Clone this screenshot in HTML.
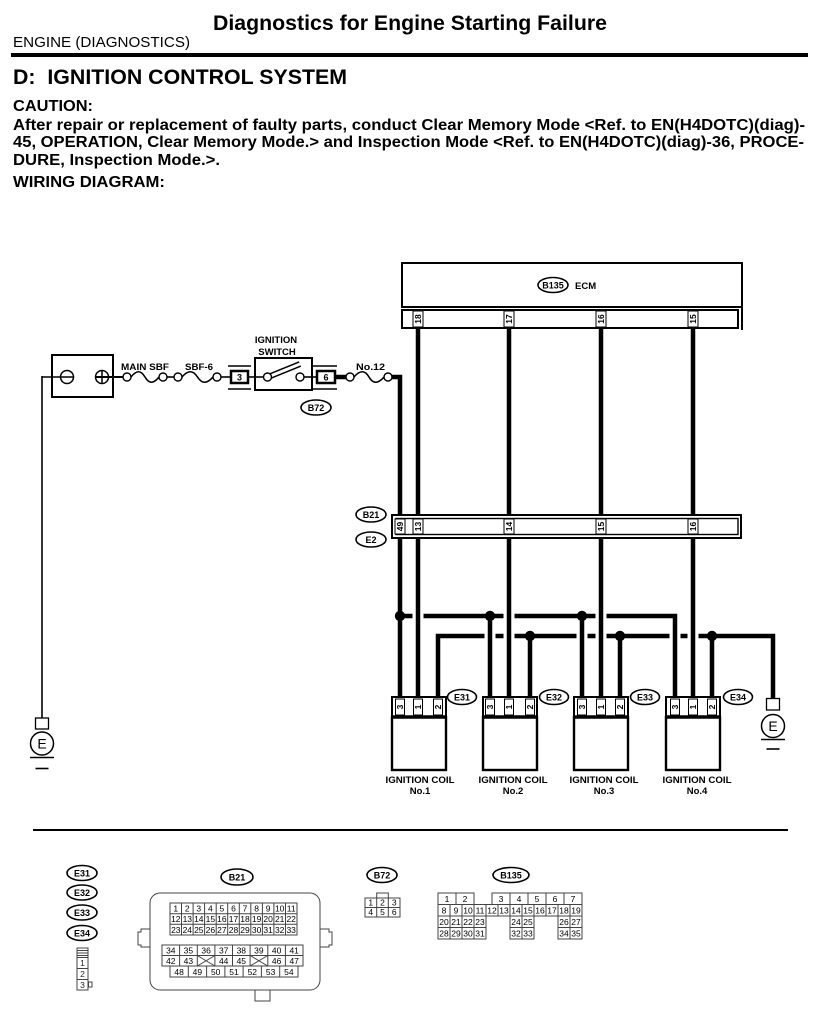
<!DOCTYPE html>
<html><head><meta charset="utf-8"><style>
html,body{margin:0;padding:0;background:#fff;}
svg{display:block;}
text{font-family:"Liberation Sans",Arial,sans-serif;fill:#000;}
.w{stroke:#000;stroke-width:4.5;fill:none;stroke-linejoin:miter;stroke-linecap:butt;}
.t{stroke:#000;stroke-width:1.6;fill:none;}
.b{stroke:#000;stroke-width:2;fill:#fff;}
.lb{stroke:#000;stroke-width:1;fill:#fff;}
.g{stroke:#444;stroke-width:1;fill:none;}
.gc{stroke:#444;stroke-width:1;fill:#fff;}
.pn{font-size:8.5px;font-weight:bold;text-anchor:middle;}
.lab{font-size:9.5px;font-weight:bold;}
.el{font-size:9px;font-weight:bold;text-anchor:middle;}
.n{font-size:8.5px;text-anchor:middle;fill:#222;}
</style></head><body>
<svg width="825" height="1015" viewBox="0 0 825 1015" xmlns="http://www.w3.org/2000/svg">
<rect width="825" height="1015" fill="#fff"/>

<!-- HEADER -->
<text x="410" y="30" text-anchor="middle" font-size="21" font-weight="bold" textLength="394" lengthAdjust="spacingAndGlyphs">Diagnostics for Engine Starting Failure</text>
<text x="13" y="47" font-size="14.5" textLength="177" lengthAdjust="spacingAndGlyphs">ENGINE (DIAGNOSTICS)</text>
<rect x="11" y="53" width="797" height="4" fill="#000"/>
<text x="13" y="84" font-size="21" font-weight="bold" textLength="334" lengthAdjust="spacingAndGlyphs">D:&#160; IGNITION CONTROL SYSTEM</text>
<text x="13" y="111" font-size="16" font-weight="bold" textLength="80" lengthAdjust="spacingAndGlyphs">CAUTION:</text>
<text x="13" y="130" font-size="16" font-weight="bold" textLength="792" lengthAdjust="spacingAndGlyphs">After repair or replacement of faulty parts, conduct Clear Memory Mode &lt;Ref. to EN(H4DOTC)(diag)-</text>
<text x="13" y="147" font-size="16" font-weight="bold" textLength="791" lengthAdjust="spacingAndGlyphs">45, OPERATION, Clear Memory Mode.&gt; and Inspection Mode &lt;Ref. to EN(H4DOTC)(diag)-36, PROCE-</text>
<text x="13" y="165" font-size="16" font-weight="bold" textLength="207" lengthAdjust="spacingAndGlyphs">DURE, Inspection Mode.&gt;.</text>
<text x="13" y="187" font-size="16" font-weight="bold" textLength="152" lengthAdjust="spacingAndGlyphs">WIRING DIAGRAM:</text>

<!-- ECM -->
<rect x="402" y="263" width="340" height="44" fill="none" stroke="#000" stroke-width="2"/>
<rect x="402" y="310" width="336" height="18" fill="none" stroke="#000" stroke-width="2"/>
<line x1="742" y1="307" x2="742" y2="330" stroke="#000" stroke-width="2"/>
<ellipse cx="553" cy="285" rx="15" ry="7.5" fill="#fff" stroke="#000" stroke-width="1.6"/>
<text x="553" y="288.5" class="el">B135</text>
<text x="575" y="289" class="lab">ECM</text>

<!-- wires ECM -> B21 -->
<path class="w" d="M418,328 V516 M509,328 V516 M601,328 V516 M693,328 V516"/>
<!-- ECM pin labels -->
<rect x="413" y="311" width="10" height="16" class="lb"/>
<rect x="504" y="311" width="10" height="16" class="lb"/>
<rect x="596" y="311" width="10" height="16" class="lb"/>
<rect x="688" y="311" width="10" height="16" class="lb"/>
<text class="pn" transform="translate(418,319) rotate(-90)" dy="3">18</text>
<text class="pn" transform="translate(509,319) rotate(-90)" dy="3">17</text>
<text class="pn" transform="translate(601,319) rotate(-90)" dy="3">16</text>
<text class="pn" transform="translate(693,319) rotate(-90)" dy="3">15</text>

<!-- LEFT CIRCUIT -->
<rect x="52" y="355" width="61" height="42" fill="#fff" stroke="#000" stroke-width="2"/>
<line x1="42" y1="377" x2="74" y2="377" class="t"/>
<circle cx="67" cy="377" r="6.5" fill="none" stroke="#000" stroke-width="1.5"/>
<circle cx="102" cy="377" r="6.5" fill="none" stroke="#000" stroke-width="1.5"/>
<line x1="102" y1="370.5" x2="102" y2="383.5" stroke="#000" stroke-width="1.5"/>
<line x1="95.5" y1="377" x2="123" y2="377" stroke="#000" stroke-width="2"/>
<!-- left ground wire -->
<line x1="42" y1="376" x2="42" y2="718" class="t"/>
<rect x="35.5" y="718" width="13" height="11" fill="#fff" stroke="#000" stroke-width="1.3"/>
<circle cx="42" cy="743.5" r="11.5" fill="#fff" stroke="#000" stroke-width="1.5"/>
<text x="42" y="748.5" font-size="14" text-anchor="middle">E</text>
<line x1="30" y1="757.5" x2="54" y2="757.5" stroke="#000" stroke-width="1.6"/>
<line x1="35.5" y1="768.5" x2="48.5" y2="768.5" stroke="#000" stroke-width="1.6"/>

<!-- fuses -->
<path d="M131,377 C136.6,370 140.8,370 145,377 S153.4,384 159,377" class="t" stroke-width="2"/>
<circle cx="127" cy="377" r="4" fill="#fff" stroke="#000" stroke-width="1.4"/>
<circle cx="163" cy="377" r="4" fill="#fff" stroke="#000" stroke-width="1.4"/>
<line x1="167" y1="377" x2="174" y2="377" class="t"/>
<path d="M182,377 C188,370 193,370 197.5,377 S207,384 213,377" class="t" stroke-width="2"/>
<circle cx="178" cy="377" r="4" fill="#fff" stroke="#000" stroke-width="1.4"/>
<circle cx="217" cy="377" r="4" fill="#fff" stroke="#000" stroke-width="1.4"/>
<text x="121" y="370" class="lab" textLength="48" lengthAdjust="spacingAndGlyphs">MAIN SBF</text>
<text x="185" y="370" class="lab" textLength="28" lengthAdjust="spacingAndGlyphs">SBF-6</text>

<!-- connector 3 -->
<line x1="221" y1="377" x2="231" y2="377" class="t"/>
<line x1="228" y1="366" x2="251" y2="366" stroke="#000" stroke-width="1.4"/>
<line x1="228" y1="389" x2="251" y2="389" stroke="#000" stroke-width="1.4"/>
<rect x="231" y="371" width="17" height="12" fill="#fff" stroke="#000" stroke-width="2.5"/>
<text x="239.5" y="380.5" class="el">3</text>
<line x1="248" y1="377" x2="255" y2="377" class="t"/>
<!-- ignition switch -->
<rect x="255" y="358" width="57" height="32" fill="#fff" stroke="#000" stroke-width="2"/>
<line x1="255" y1="377" x2="263" y2="377" class="t"/>
<line x1="304" y1="377" x2="312" y2="377" class="t"/>
<line x1="268" y1="377" x2="300" y2="364" stroke="#000" stroke-width="6"/>
<line x1="268" y1="377" x2="300" y2="364" stroke="#fff" stroke-width="3"/>
<circle cx="267.5" cy="377" r="4" fill="#fff" stroke="#000" stroke-width="1.4"/>
<circle cx="300" cy="377" r="4" fill="#fff" stroke="#000" stroke-width="1.4"/>
<text x="276" y="343" class="lab" text-anchor="middle" font-size="9">IGNITION</text>
<text x="277" y="355" class="lab" text-anchor="middle" font-size="9">SWITCH</text>
<line x1="312" y1="377" x2="317" y2="377" class="t"/>
<!-- connector 6 -->
<line x1="313" y1="366" x2="337" y2="366" stroke="#000" stroke-width="1.4"/>
<line x1="313" y1="389" x2="337" y2="389" stroke="#000" stroke-width="1.4"/>
<rect x="317" y="371" width="18" height="12" fill="#fff" stroke="#000" stroke-width="2.5"/>
<text x="326" y="380.5" class="el">6</text>
<ellipse cx="316" cy="407.5" rx="15" ry="7.5" fill="#fff" stroke="#000" stroke-width="1.6"/>
<text x="316" y="411" class="el">B72</text>
<!-- No.12 -->
<line x1="335" y1="377" x2="346" y2="377" stroke="#000" stroke-width="4.5"/>
<path d="M354,377 C360,370 365,370 369,377 S378,384 384,377" class="t" stroke-width="2"/>
<circle cx="350" cy="377" r="4" fill="#fff" stroke="#000" stroke-width="1.4"/>
<circle cx="388" cy="377" r="4" fill="#fff" stroke="#000" stroke-width="1.4"/>
<text x="356" y="370" class="lab" textLength="29" lengthAdjust="spacingAndGlyphs">No.12</text>
<path class="w" d="M392,377 H400 V516"/>

<!-- B21 / E2 -->
<rect x="392" y="515" width="349" height="23" fill="#fff" stroke="#000" stroke-width="2"/>
<rect x="396" y="518.5" width="342" height="16" fill="none" stroke="#000" stroke-width="1.4"/>
<ellipse cx="371" cy="514.5" rx="15" ry="7.5" fill="#fff" stroke="#000" stroke-width="1.6"/>
<text x="371" y="518" class="el">B21</text>
<ellipse cx="371" cy="539.5" rx="15" ry="7.5" fill="#fff" stroke="#000" stroke-width="1.6"/>
<text x="371" y="543" class="el">E2</text>
<rect x="395" y="519" width="10" height="15" class="lb"/>
<rect x="413" y="519" width="10" height="15" class="lb"/>
<rect x="504" y="519" width="10" height="15" class="lb"/>
<rect x="596" y="519" width="10" height="15" class="lb"/>
<rect x="688" y="519" width="10" height="15" class="lb"/>
<text class="pn" transform="translate(400,526.5) rotate(-90)" dy="3">49</text>
<text class="pn" transform="translate(418,526.5) rotate(-90)" dy="3">13</text>
<text class="pn" transform="translate(509,526.5) rotate(-90)" dy="3">14</text>
<text class="pn" transform="translate(601,526.5) rotate(-90)" dy="3">15</text>
<text class="pn" transform="translate(693,526.5) rotate(-90)" dy="3">16</text>

<!-- wires B21 -> coils -->
<path class="w" d="M400,538 V697 M418,538 V697 M509,538 V697 M601,538 V697 M693,538 V697"/>
<!-- upper common line -->
<path class="w" d="M400,616 H412.5 M423.5,616 H503.5 M514.5,616 H595.5 M606.5,616 H675 V697"/>
<path class="w" d="M490,616 V697 M582,616 V697"/>
<circle cx="400" cy="616" r="5.2"/>
<circle cx="490" cy="616" r="5.2"/>
<circle cx="582" cy="616" r="5.2"/>
<!-- lower common line -->
<path class="w" d="M438,697 V636 H484.5 M495.5,636 H503.5 M514.5,636 H576.5 M587.5,636 H595.5 M606.5,636 H669.5 M680.5,636 H687.5 M698.5,636 H773 V699"/>
<path class="w" d="M530,636 V697 M620,636 V697 M712,636 V697"/>
<circle cx="530" cy="636" r="5.2"/>
<circle cx="620" cy="636" r="5.2"/>
<circle cx="712" cy="636" r="5.2"/>

<!-- right ground -->
<rect x="766.5" y="698.5" width="13" height="11.5" fill="#fff" stroke="#000" stroke-width="1.3"/>
<circle cx="773" cy="726" r="11.5" fill="#fff" stroke="#000" stroke-width="1.5"/>
<text x="773" y="731" font-size="14" text-anchor="middle">E</text>
<line x1="761" y1="739.5" x2="785" y2="739.5" stroke="#000" stroke-width="1.6"/>
<line x1="766.5" y1="749" x2="779.5" y2="749" stroke="#000" stroke-width="1.6"/>

<!-- COILS -->
<g>
<rect x="392" y="697" width="54" height="20" fill="#fff" stroke="#000" stroke-width="2"/>
<rect x="392" y="717" width="54" height="53" fill="#fff" stroke="#000" stroke-width="2.4"/>
<line x1="392" y1="717" x2="446" y2="717" stroke="#000" stroke-width="3.5"/>
<rect x="395.5" y="699" width="9" height="16" class="lb"/>
<rect x="413.5" y="699" width="9" height="16" class="lb"/>
<rect x="433.5" y="699" width="9" height="16" class="lb"/>
<text class="pn" transform="translate(400,707) rotate(-90)" dy="3">3</text>
<text class="pn" transform="translate(418,707) rotate(-90)" dy="3">1</text>
<text class="pn" transform="translate(438,707) rotate(-90)" dy="3">2</text>
<ellipse cx="462" cy="697" rx="14.5" ry="7.5" fill="#fff" stroke="#000" stroke-width="1.6"/>
<text x="462" y="700.5" class="el">E31</text>
<text x="420" y="783" class="lab" text-anchor="middle" textLength="69" lengthAdjust="spacingAndGlyphs">IGNITION COIL</text>
<text x="420" y="794" class="lab" text-anchor="middle">No.1</text>
</g>
<g>
<rect x="483" y="697" width="54" height="20" fill="#fff" stroke="#000" stroke-width="2"/>
<rect x="483" y="717" width="54" height="53" fill="#fff" stroke="#000" stroke-width="2.4"/>
<line x1="483" y1="717" x2="537" y2="717" stroke="#000" stroke-width="3.5"/>
<rect x="485.5" y="699" width="9" height="16" class="lb"/>
<rect x="504.5" y="699" width="9" height="16" class="lb"/>
<rect x="525.5" y="699" width="9" height="16" class="lb"/>
<text class="pn" transform="translate(490,707) rotate(-90)" dy="3">3</text>
<text class="pn" transform="translate(509,707) rotate(-90)" dy="3">1</text>
<text class="pn" transform="translate(530,707) rotate(-90)" dy="3">2</text>
<ellipse cx="554" cy="697" rx="14.5" ry="7.5" fill="#fff" stroke="#000" stroke-width="1.6"/>
<text x="554" y="700.5" class="el">E32</text>
<text x="513" y="783" class="lab" text-anchor="middle" textLength="69" lengthAdjust="spacingAndGlyphs">IGNITION COIL</text>
<text x="513" y="794" class="lab" text-anchor="middle">No.2</text>
</g>
<g>
<rect x="574" y="697" width="54" height="20" fill="#fff" stroke="#000" stroke-width="2"/>
<rect x="574" y="717" width="54" height="53" fill="#fff" stroke="#000" stroke-width="2.4"/>
<line x1="574" y1="717" x2="628" y2="717" stroke="#000" stroke-width="3.5"/>
<rect x="577.5" y="699" width="9" height="16" class="lb"/>
<rect x="596.5" y="699" width="9" height="16" class="lb"/>
<rect x="615.5" y="699" width="9" height="16" class="lb"/>
<text class="pn" transform="translate(582,707) rotate(-90)" dy="3">3</text>
<text class="pn" transform="translate(601,707) rotate(-90)" dy="3">1</text>
<text class="pn" transform="translate(620,707) rotate(-90)" dy="3">2</text>
<ellipse cx="645" cy="697" rx="14.5" ry="7.5" fill="#fff" stroke="#000" stroke-width="1.6"/>
<text x="645" y="700.5" class="el">E33</text>
<text x="604" y="783" class="lab" text-anchor="middle" textLength="69" lengthAdjust="spacingAndGlyphs">IGNITION COIL</text>
<text x="604" y="794" class="lab" text-anchor="middle">No.3</text>
</g>
<g>
<rect x="666" y="697" width="54" height="20" fill="#fff" stroke="#000" stroke-width="2"/>
<rect x="666" y="717" width="54" height="53" fill="#fff" stroke="#000" stroke-width="2.4"/>
<line x1="666" y1="717" x2="720" y2="717" stroke="#000" stroke-width="3.5"/>
<rect x="670.5" y="699" width="9" height="16" class="lb"/>
<rect x="688.5" y="699" width="9" height="16" class="lb"/>
<rect x="707.5" y="699" width="9" height="16" class="lb"/>
<text class="pn" transform="translate(675,707) rotate(-90)" dy="3">3</text>
<text class="pn" transform="translate(693,707) rotate(-90)" dy="3">1</text>
<text class="pn" transform="translate(712,707) rotate(-90)" dy="3">2</text>
<ellipse cx="738" cy="697" rx="14.5" ry="7.5" fill="#fff" stroke="#000" stroke-width="1.6"/>
<text x="738" y="700.5" class="el">E34</text>
<text x="697" y="783" class="lab" text-anchor="middle" textLength="69" lengthAdjust="spacingAndGlyphs">IGNITION COIL</text>
<text x="697" y="794" class="lab" text-anchor="middle">No.4</text>
</g>

<!-- separator -->
<line x1="33" y1="830" x2="788" y2="830" stroke="#000" stroke-width="2"/>

<!-- BOTTOM: E31-E34 connector -->
<ellipse cx="82" cy="873" rx="15" ry="7.5" fill="#fff" stroke="#000" stroke-width="1.6"/>
<text x="82" y="876.5" class="el">E31</text>
<ellipse cx="82" cy="892.5" rx="15" ry="7.5" fill="#fff" stroke="#000" stroke-width="1.6"/>
<text x="82" y="896" class="el">E32</text>
<ellipse cx="82" cy="912.5" rx="15" ry="7.5" fill="#fff" stroke="#000" stroke-width="1.6"/>
<text x="82" y="916" class="el">E33</text>
<ellipse cx="82" cy="933" rx="15" ry="7.5" fill="#fff" stroke="#000" stroke-width="1.6"/>
<text x="82" y="936.5" class="el">E34</text>
<rect x="77" y="948" width="11" height="42" class="gc"/>
<path class="g" d="M77,950.5 H88 M77,953 H88 M77,955.5 H88 M77,957.5 H88 M77,968.5 H88 M77,979.5 H88"/>
<rect x="88.5" y="982" width="3.5" height="5" class="gc"/>
<text x="82.5" y="966" class="n">1</text>
<text x="82.5" y="977" class="n">2</text>
<text x="82.5" y="988" class="n">3</text>

<!-- B21 connector -->
<ellipse cx="237" cy="877" rx="16" ry="8" fill="#fff" stroke="#000" stroke-width="1.6"/>
<text x="237" y="880.5" class="el">B21</text>
<rect x="150" y="893" width="170" height="97" rx="10" class="g"/>
<path class="g" d="M150,929 H141 V932 H138 V945 H141 V947 H150"/>
<path class="g" d="M320,929 H329 V932 H332 V945 H329 V947 H320"/>
<path class="g" d="M255,990 V1001 H270 V990"/>
<rect x="170" y="903" width="127" height="32" class="gc"/>
<path class="g" d="M181.5,903 V935 M193.1,903 V935 M204.6,903 V935 M216.2,903 V935 M227.7,903 V935 M239.3,903 V935 M250.8,903 V935 M262.4,903 V935 M273.9,903 V935 M285.5,903 V935 M170,913.7 H297 M170,924.3 H297"/>
<g class="n">
<text x="175.8" y="911.5">1</text><text x="187.3" y="911.5">2</text><text x="198.8" y="911.5">3</text><text x="210.4" y="911.5">4</text><text x="221.9" y="911.5">5</text><text x="233.5" y="911.5">6</text><text x="245" y="911.5">7</text><text x="256.6" y="911.5">8</text><text x="268.1" y="911.5">9</text><text x="279.7" y="911.5">10</text><text x="291.2" y="911.5">11</text>
<text x="175.8" y="922.2">12</text><text x="187.3" y="922.2">13</text><text x="198.8" y="922.2">14</text><text x="210.4" y="922.2">15</text><text x="221.9" y="922.2">16</text><text x="233.5" y="922.2">17</text><text x="245" y="922.2">18</text><text x="256.6" y="922.2">19</text><text x="268.1" y="922.2">20</text><text x="279.7" y="922.2">21</text><text x="291.2" y="922.2">22</text>
<text x="175.8" y="932.8">23</text><text x="187.3" y="932.8">24</text><text x="198.8" y="932.8">25</text><text x="210.4" y="932.8">26</text><text x="221.9" y="932.8">27</text><text x="233.5" y="932.8">28</text><text x="245" y="932.8">29</text><text x="256.6" y="932.8">30</text><text x="268.1" y="932.8">31</text><text x="279.7" y="932.8">32</text><text x="291.2" y="932.8">33</text>
</g>
<rect x="162" y="945" width="141" height="21" class="gc"/>
<path class="g" d="M179.6,945 V966 M197.3,945 V966 M214.9,945 V966 M232.5,945 V966 M250.1,945 V966 M267.8,945 V966 M285.4,945 V966 M162,955.5 H303 M197.3,955.5 L214.9,966 M214.9,955.5 L197.3,966 M250.1,955.5 L267.8,966 M267.8,955.5 L250.1,966"/>
<rect x="170" y="966" width="128" height="11" class="gc"/>
<path class="g" d="M188.3,966 V977 M206.6,966 V977 M224.9,966 V977 M243.1,966 V977 M261.4,966 V977 M279.7,966 V977"/>
<g class="n">
<text x="170.8" y="953.5">34</text><text x="188.4" y="953.5">35</text><text x="206.1" y="953.5">36</text><text x="223.7" y="953.5">37</text><text x="241.3" y="953.5">38</text><text x="258.9" y="953.5">39</text><text x="276.6" y="953.5">40</text><text x="294.2" y="953.5">41</text>
<text x="170.8" y="964">42</text><text x="188.4" y="964">43</text><text x="223.7" y="964">44</text><text x="241.3" y="964">45</text><text x="276.6" y="964">46</text><text x="294.2" y="964">47</text>
<text x="179.1" y="974.8">48</text><text x="197.4" y="974.8">49</text><text x="215.7" y="974.8">50</text><text x="234" y="974.8">51</text><text x="252.3" y="974.8">52</text><text x="270.6" y="974.8">53</text><text x="288.9" y="974.8">54</text>
</g>

<!-- B72 connector -->
<ellipse cx="382" cy="875" rx="15" ry="7.5" fill="#fff" stroke="#000" stroke-width="1.6"/>
<text x="382" y="878.5" class="el">B72</text>
<rect x="376.7" y="893" width="11.6" height="5" class="gc"/>
<rect x="365" y="898" width="35" height="19" class="gc"/>
<path class="g" d="M376.7,898 V917 M388.3,898 V917 M365,907.5 H400"/>
<g class="n">
<text x="370.8" y="905.7">1</text><text x="382.5" y="905.7">2</text><text x="394.2" y="905.7">3</text>
<text x="370.8" y="915.2">4</text><text x="382.5" y="915.2">5</text><text x="394.2" y="915.2">6</text>
</g>

<!-- B135 connector -->
<ellipse cx="511" cy="875" rx="18" ry="7.5" fill="#fff" stroke="#000" stroke-width="1.6"/>
<text x="511" y="878.5" class="el">B135</text>
<g class="gc">
<rect x="438" y="893" width="18" height="11.5"/><rect x="456" y="893" width="18" height="11.5"/>
<rect x="492" y="893" width="18" height="11.5"/><rect x="510" y="893" width="18" height="11.5"/><rect x="528" y="893" width="18" height="11.5"/><rect x="546" y="893" width="18" height="11.5"/><rect x="564" y="893" width="18" height="11.5"/>
<rect x="438" y="904.5" width="144" height="11.5"/>
<rect x="438" y="916" width="48" height="23"/>
<rect x="510" y="916" width="24" height="23"/>
<rect x="558" y="916" width="24" height="23"/>
</g>
<path class="g" d="M450,904.5 V916 M462,904.5 V939 M474,904.5 V939 M486,904.5 V916 M498,904.5 V916 M510,904.5 V916 M522,904.5 V939 M534,904.5 V916 M546,904.5 V916 M558,904.5 V916 M570,904.5 V939 M450,916 V939 M438,927.5 H486 M510,927.5 H534 M558,927.5 H582"/>
<g class="n">
<text x="447" y="902">1</text><text x="465" y="902">2</text><text x="501" y="902">3</text><text x="519" y="902">4</text><text x="537" y="902">5</text><text x="555" y="902">6</text><text x="573" y="902">7</text>
<text x="444" y="913.5">8</text><text x="456" y="913.5">9</text><text x="468" y="913.5">10</text><text x="480" y="913.5">11</text><text x="492" y="913.5">12</text><text x="504" y="913.5">13</text><text x="516" y="913.5">14</text><text x="528" y="913.5">15</text><text x="540" y="913.5">16</text><text x="552" y="913.5">17</text><text x="564" y="913.5">18</text><text x="576" y="913.5">19</text>
<text x="444" y="925">20</text><text x="456" y="925">21</text><text x="468" y="925">22</text><text x="480" y="925">23</text><text x="516" y="925">24</text><text x="528" y="925">25</text><text x="564" y="925">26</text><text x="576" y="925">27</text>
<text x="444" y="936.5">28</text><text x="456" y="936.5">29</text><text x="468" y="936.5">30</text><text x="480" y="936.5">31</text><text x="516" y="936.5">32</text><text x="528" y="936.5">33</text><text x="564" y="936.5">34</text><text x="576" y="936.5">35</text>
</g>
</svg>
</body></html>
